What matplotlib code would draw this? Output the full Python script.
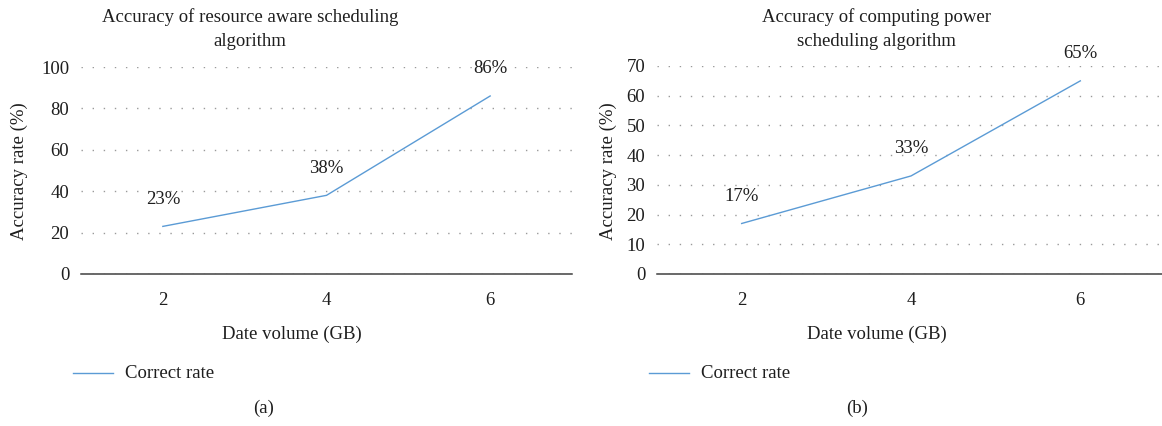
import matplotlib
matplotlib.use("Agg")
import matplotlib.pyplot as plt

categories = ["2", "4", "6"]
resource_aware = [23, 38, 86]
computing_power = [17, 33, 65]
title_a = "Accuracy of resource aware scheduling\nalgorithm"
title_b = "Accuracy of computing power\nscheduling algorithm"
ylabel = "Accuracy rate (%)"
xlabel = "Date volume (GB)"
legend_label = "Correct rate"

W, H = 1162, 426
plt.rcParams['font.family'] = ['Liberation Serif', 'DejaVu Serif']
FS = 13.5
LINE_COLOR = "#5B9BD5"
TEXT_COLOR = "#1e1e1e"

fig = plt.figure(figsize=(W / 100, H / 100), dpi=100)


def fx(px):
    return px / W


def fy(py):
    return 1 - py / H


def make_panel(x0, x1, ytop_px, ymax, ystep, values, title, title_cx, ylab_x,
               xlab_cx, leg_x0, sub_cx, sub_label):
    ax = fig.add_axes([fx(x0), fy(274), fx(x1) - fx(x0), fy(ytop_px) - fy(274)])
    xs = list(range(len(categories)))
    ax.plot(xs, values, color=LINE_COLOR, lw=1.0, solid_joinstyle='miter')
    ax.set_xlim(-0.5, len(categories) - 0.5)
    ax.set_ylim(0, ymax)
    ax.set_yticks(range(0, ymax + 1, ystep))
    ax.set_xticks(xs)
    ax.set_xticklabels(categories)
    for s in ['top', 'right', 'left']:
        ax.spines[s].set_visible(False)
    ax.spines['bottom'].set_color('#404040')
    ax.spines['bottom'].set_linewidth(1.1)
    ax.tick_params(axis='both', length=0, colors=TEXT_COLOR, labelsize=FS)
    ax.tick_params(axis='y', pad=8.5)
    ax.tick_params(axis='x', pad=13)
    ax.yaxis.grid(True, color='#9a9a9a', linestyle=(0, (1, 7)), linewidth=1.0)
    ax.set_axisbelow(True)
    for x, v in zip(xs, values):
        ax.annotate(f"{v}%", (x, v), xytext=(0, 19.5), textcoords='offset points',
                    ha='center', va='center', fontsize=FS, color=TEXT_COLOR)
    fig.text(fx(title_cx), fy(17), title.split("\n")[0], ha='center', va='center',
             fontsize=FS, color=TEXT_COLOR)
    fig.text(fx(title_cx), fy(42), title.split("\n")[1], ha='center', va='center',
             fontsize=FS, color=TEXT_COLOR)
    fig.text(fx(ylab_x), fy(171), ylabel, rotation=90, ha='center', va='center',
             fontsize=FS, color=TEXT_COLOR)
    fig.text(fx(xlab_cx), fy(334), xlabel, ha='center', va='center',
             fontsize=FS, color=TEXT_COLOR)
    fig.add_artist(plt.Line2D([fx(leg_x0), fx(leg_x0 + 40)], [fy(373), fy(373)],
                              color=LINE_COLOR, lw=1.0))
    fig.text(fx(leg_x0 + 52), fy(373), legend_label, ha='left', va='center',
             fontsize=FS, color=TEXT_COLOR)
    fig.text(fx(sub_cx), fy(408), sub_label, ha='center', va='center',
             fontsize=FS, color=TEXT_COLOR)
    return ax


make_panel(81, 572, 67, 100, 20, resource_aware, title_a, 250, 19, 292, 73, 264, "(a)")
make_panel(657, 1165, 66, 70, 10, computing_power, title_b, 876, 608, 877, 649, 857, "(b)")

fig.savefig("out.png", dpi=100)
